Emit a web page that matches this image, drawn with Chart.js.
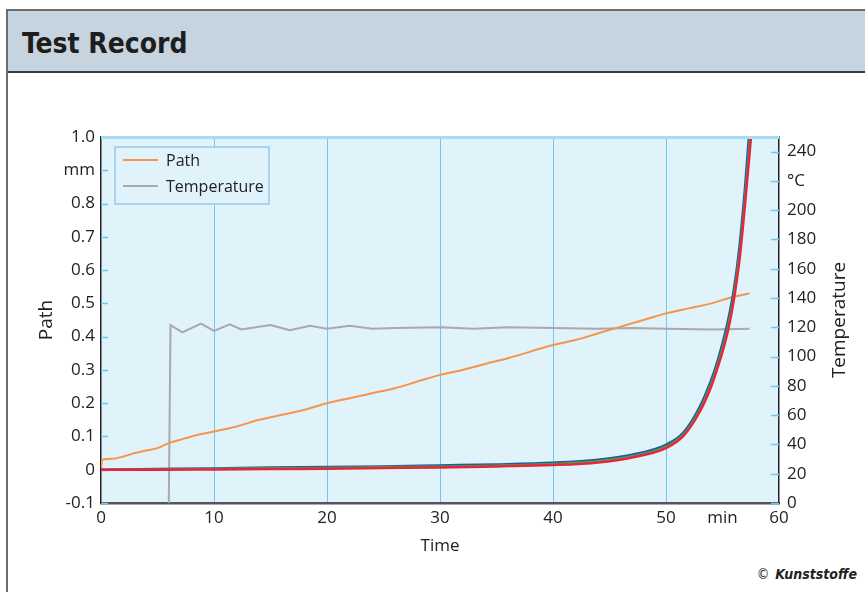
<!DOCTYPE html>
<html>
<head>
<meta charset="utf-8">
<script src="https://cdn.jsdelivr.net/npm/chart.js@4.4.0/dist/chart.umd.min.js"></script>
<style>
  html, body { margin: 0; padding: 0; background: #fff; }
  body { width: 865px; height: 592px; position: relative; overflow: hidden; }
  .frame { position: absolute; left: 6px; top: 9px; width: 870px; height: 600px;
           border-left: 2px solid #6b6b6b; border-top: 2px solid #6b6b6b; }
  .header { position: absolute; left: 8px; top: 11px; width: 870px; height: 60px;
            background: #c5d4df; border-bottom: 2px solid #3a3a3a; }
  .header span { position: absolute; left: 14px; top: 16px; font-family: "DejaVu Sans Condensed", "DejaVu Sans";
                 font-stretch: condensed; font-weight: bold; font-size: 28px; color: #1e1e1e; }
  .copy { position: absolute; right: 8px; top: 566px; font-family: "DejaVu Sans Condensed", "DejaVu Sans";
          font-stretch: condensed; font-size: 14px; color: #222; }
  .copy b { font-style: italic; margin-left: 6px; }
  .wrap { position: absolute; left: 0; top: 0; width: 865px; height: 592px; }
</style>
</head>
<body>
<div class="frame"></div>
<div class="header"><span>Test Record</span></div>
<div class="copy">©<b>Kunststoffe</b></div>
<div class="wrap"><canvas id="myChart"></canvas></div>
<script>
// path (orange), left axis, mm
const pathTime = [0, 0.1, 1, 2, 3, 4, 5, 6, 7, 8, 9, 10, 12, 14, 16, 18, 20, 22, 24, 26, 28, 30, 32, 34, 36, 38, 40, 42, 44, 46, 48, 50, 52, 54, 56, 57.4];
const pathValues = [0, 0.03, 0.033, 0.04, 0.05, 0.058, 0.065, 0.08, 0.09, 0.1, 0.108, 0.115, 0.13, 0.15, 0.165, 0.18, 0.2, 0.215, 0.23, 0.245, 0.265, 0.285, 0.3, 0.318, 0.335, 0.355, 0.375, 0.39, 0.41, 0.43, 0.45, 0.47, 0.485, 0.5, 0.52, 0.53];

// temperature (grey), right axis, °C
const tempTime = [6.0, 6.15, 7.2, 8.85, 10.0, 11.4, 12.4, 15, 16.7, 18.5, 20, 22, 24, 26, 30, 33, 36, 40, 44, 47, 50, 54, 57.4];
const tempValues = [0, 121.5, 116.5, 122.5, 117.5, 122, 118.5, 121.5, 118, 121, 119, 121, 119, 119.5, 120, 119, 120, 119.5, 119, 119.5, 119, 118.5, 119];

// three creep curves
const creepTime = [0, 5, 10, 15, 20, 25, 30, 35, 40, 44, 47, 50, 51.5, 53, 54, 54.5, 55, 55.5, 56, 56.5, 57, 57.4];
const blueValues = [0, 0.002, 0.004, 0.007, 0.008, 0.01, 0.013, 0.016, 0.021, 0.03, 0.045, 0.075, 0.11, 0.19, 0.27, 0.32, 0.38, 0.45, 0.54, 0.67, 0.85, 1.03];
const greenTime = [0, 5, 10, 15, 20, 25, 30, 35, 40, 44, 47, 50, 51.5, 53, 54, 54.5, 55, 55.5, 56, 56.5, 57, 57.5];
const greenValues = [0, 0.001, 0.003, 0.005, 0.006, 0.008, 0.01, 0.013, 0.018, 0.026, 0.041, 0.07, 0.105, 0.182, 0.26, 0.31, 0.367, 0.435, 0.525, 0.65, 0.825, 1.03];
const redTime = [0, 5, 10, 15, 20, 25, 30, 35, 40, 44, 47, 50, 51.5, 53, 54, 54.5, 55, 55.5, 56, 56.5, 57, 57.6];
const redValues = [0, 0, 0.001, 0.002, 0.003, 0.005, 0.007, 0.01, 0.014, 0.022, 0.037, 0.065, 0.1, 0.175, 0.25, 0.3, 0.355, 0.42, 0.51, 0.63, 0.8, 1.03];

const xTicks = [0, 10, 20, 30, 40, 50, 55, 60];
const xTickLabels = ['0', '10', '20', '30', '40', '50', 'min', '60'];
const y2Ticks = [0, 20, 40, 60, 80, 100, 120, 140, 160, 180, 200, 220, 240];
const legendLabels = ['Path', 'Temperature'];

const pts = (xs, ys) => xs.map((x, i) => ({ x: x, y: ys[i] }));

const FONT = '"Open Sans", "DejaVu Sans", sans-serif';
const plotBg = '#e0f2fa';
const gridBlue = '#6fc8ee';

const bgPlugin = {
  id: 'plotBg',
  beforeDraw(chart) {
    const a = chart.chartArea, c = chart.ctx;
    c.save();
    c.fillStyle = plotBg;
    c.fillRect(a.left, a.top, a.right - a.left, a.bottom - a.top);
    c.restore();
  },
  beforeDatasetsDraw(chart) {
    const a = chart.chartArea, c = chart.ctx;
    c.save();
    c.strokeStyle = gridBlue;
    c.lineWidth = 1.5;
    chart.scales.y.ticks.forEach(t => {
      const y = Math.round(chart.scales.y.getPixelForValue(t.value)) + 0.5;
      c.beginPath(); c.moveTo(a.left, y); c.lineTo(a.left + 7, y); c.stroke();
    });
    chart.scales.y2.ticks.forEach(t => {
      const y = Math.round(chart.scales.y2.getPixelForValue(t.value)) + 0.5;
      c.beginPath(); c.moveTo(a.right - 8, y); c.lineTo(a.right, y); c.stroke();
    });
    c.restore();
  },
  afterDraw(chart) {
    const a = chart.chartArea, c = chart.ctx;
    c.save();
    // top edge
    c.strokeStyle = '#a6dcf4';
    c.lineWidth = 3;
    c.beginPath(); c.moveTo(a.left, a.top + 0.5); c.lineTo(a.right, a.top + 0.5); c.stroke();

    // legend box
    const lx = a.left + 14, ly = a.top + 10, lw = 154, lh = 57;
    c.fillStyle = plotBg;
    c.fillRect(lx, ly, lw, lh);
    c.strokeStyle = '#a9d3ee';
    c.lineWidth = 2;
    c.strokeRect(lx, ly, lw, lh);
    c.font = '16px ' + FONT;
    c.textBaseline = 'middle';
    c.textAlign = 'left';
    legendLabels.forEach((lab, i) => {
      const ds = chart.data.datasets.find(d => d.label === lab);
      const y = ly + 13 + i * 26;
      c.strokeStyle = ds.borderColor;
      c.lineWidth = 2;
      c.beginPath(); c.moveTo(lx + 8, y); c.lineTo(lx + 43, y); c.stroke();
      c.fillStyle = '#222';
      c.fillText(lab, lx + 51, y + 1);
    });

    // axis titles
    c.fillStyle = '#222';
    c.font = '19px ' + FONT;
    c.textAlign = 'center';
    c.save();
    c.translate(47, (a.top + a.bottom) / 2);
    c.rotate(-Math.PI / 2);
    c.fillText('Path', 0, 0);
    c.restore();
    c.save();
    c.translate(840, (a.top + a.bottom) / 2);
    c.rotate(-Math.PI / 2);
    c.fillText('Temperature', 0, 0);
    c.restore();
    c.font = '17px ' + FONT;
    c.fillText('Time', (a.left + a.right) / 2, 546);
    c.restore();
  }
};

const ctx = document.getElementById('myChart').getContext('2d');

const config = {
  type: 'line',
  data: {
    datasets: [{
      label: 'Red',
      data: pts(redTime, redValues),
      borderColor: '#e8253a',
      borderWidth: 2.5,
      yAxisID: 'y',
      order: 0
    }, {
      label: 'Green',
      data: pts(greenTime, greenValues),
      borderColor: '#45a845',
      borderWidth: 2,
      yAxisID: 'y',
      order: 1
    }, {
      label: 'Blue',
      data: pts(creepTime, blueValues),
      borderColor: '#1f57a4',
      borderWidth: 2.5,
      yAxisID: 'y',
      order: 2
    }, {
      label: 'Path',
      data: pts(pathTime, pathValues),
      borderColor: '#f7944a',
      borderWidth: 2,
      yAxisID: 'y',
      order: 3
    }, {
      label: 'Temperature',
      data: pts(tempTime, tempValues),
      borderColor: '#a9a9a9',
      borderWidth: 2,
      cubicInterpolationMode: 'default',
      tension: 0,
      yAxisID: 'y2',
      order: 4
    }]
  },
  options: {
    responsive: true,
    maintainAspectRatio: false,
    animation: false,
    layout: { padding: { top: 137, left: 0, right: 0, bottom: 0 } },
    elements: {
      point: { radius: 0 },
      line: { cubicInterpolationMode: 'monotone' }
    },
    plugins: { legend: { display: false }, tooltip: { enabled: false } },
    scales: {
      x: {
        type: 'linear',
        min: 0,
        max: 60,
        afterFit: s => { s.height = 89; },
        afterBuildTicks: s => { s.ticks = xTicks.map(v => ({ value: v })); },
        ticks: {
          autoSkip: false,
          maxRotation: 0,
          padding: 5,
          color: '#222',
          font: { family: FONT, size: 17 },
          callback: v => xTickLabels[xTicks.indexOf(v)]
        },
        grid: {
          drawTicks: false,
          lineWidth: 1,
          color: c => (c.tick && c.tick.value % 10 === 0 && c.tick.value > 0 && c.tick.value < 60) ? gridBlue : 'rgba(0,0,0,0)'
        },
        border: { color: '#555', width: 2.5 }
      },
      y: {
        position: 'left',
        min: -0.1,
        max: 1.0,
        afterFit: s => { s.width = 101; },
        ticks: {
          stepSize: 0.1,
          padding: 6,
          color: '#222',
          font: { family: FONT, size: 17 },
          callback: v => {
            const r = Math.round(v * 10) / 10;
            if (r === 0) return '0';
            if (r === 0.9) return 'mm';
            return r.toFixed(1);
          }
        },
        grid: { drawOnChartArea: false, drawTicks: false },
        border: { color: '#222', width: 1.5 }
      },
      y2: {
        position: 'right',
        min: 0,
        max: 250,
        afterFit: s => { s.width = 86; },
        afterBuildTicks: s => { s.ticks = y2Ticks.map(v => ({ value: v })); },
        ticks: {
          autoSkip: false,
          padding: 8,
          color: '#222',
          font: { family: FONT, size: 17 },
          callback: v => (v === 220 ? '°C' : String(v))
        },
        grid: { drawOnChartArea: false, drawTicks: false },
        border: { color: '#222', width: 1.5 }
      }
    }
  },
  plugins: [bgPlugin]
};

const myChart = new Chart(ctx, config);
</script>
</body>
</html>
